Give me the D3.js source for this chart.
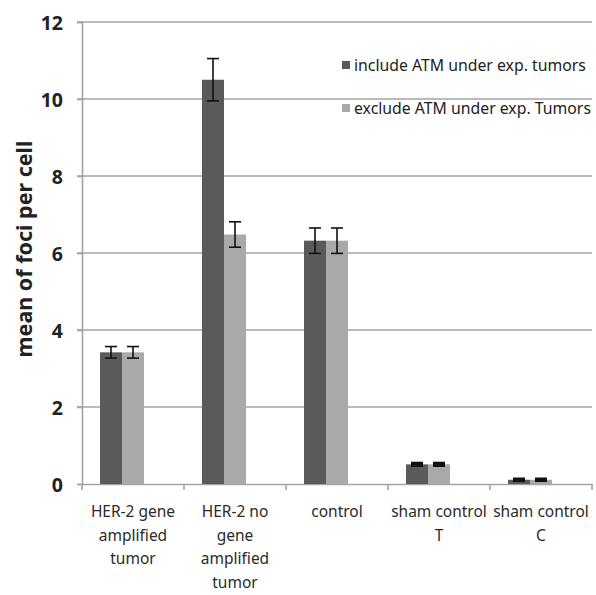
<!DOCTYPE html>
<html><head><meta charset="utf-8">
<script src="https://cdn.jsdelivr.net/npm/d3@7"></script>
<style>body{margin:0;background:#fff}</style>
</head><body>
<svg id="c" width="596" height="595"></svg>
<script>
const categories = ["HER-2 gene amplified tumor","HER-2 no gene amplified tumor","control","sham control T","sham control C"];
const categoryLines = [["HER-2 gene","amplified","tumor"],["HER-2 no","gene","amplified","tumor"],["control"],["sham control","T"],["sham control","C"]];
const seriesNames = ["include ATM under exp. tumors","exclude ATM under exp. Tumors"];
const includeValues = [3.42, 10.5, 6.32, 0.51, 0.11];
const includeErrors = [0.15, 0.55, 0.33, 0.03, 0.02];
const excludeValues = [3.42, 6.48, 6.32, 0.51, 0.11];
const excludeErrors = [0.15, 0.33, 0.33, 0.03, 0.02];
const yTicks = [0,2,4,6,8,10,12];
const colors = ["#5a5a5a","#a9a9a9"];

const svg = d3.select("#c");
const L=82, R=592, T=22, B=484;
const x = d3.scaleBand().domain(categories).range([L,R]).padding(0);
const xs = d3.scaleBand().domain([0,1]).range([0,44]).padding(0);
const y = d3.scaleLinear().domain([0,12]).range([B,T]);
const barOffset = 18;

// gridlines
svg.append("g").selectAll("line").data(yTicks.filter(d=>d>0)).join("line")
  .attr("x1",L-5).attr("x2",R).attr("y1",d=>y(d)).attr("y2",d=>y(d))
  .attr("stroke","#a3a3a3").attr("stroke-width",1.6);

// y axis
const ya = svg.append("g").attr("transform",`translate(${L},0)`)
  .call(d3.axisLeft(y).tickValues(yTicks).tickSize(5).tickPadding(14));
ya.select(".domain").attr("stroke","#a3a3a3").attr("stroke-width",1.6);
ya.selectAll(".tick line").attr("stroke","#a3a3a3").attr("stroke-width",1.6);
ya.selectAll(".tick text").attr("font-family","Noto Sans").attr("font-weight","bold")
  .attr("font-size",19.5).attr("fill","#222").attr("dy","0.36em");

// x axis
const xa = svg.append("g").attr("transform",`translate(0,${B})`)
  .call(d3.axisBottom(x).tickSize(0).tickFormat(""));
xa.select(".domain").attr("stroke","#a3a3a3").attr("stroke-width",1.6);
svg.append("g").selectAll("line").data(categories.concat(["_end"])).join("line")
  .attr("x1",(d,i)=> i<categories.length ? x(d) : R)
  .attr("x2",(d,i)=> i<categories.length ? x(d) : R)
  .attr("y1",B).attr("y2",B+6).attr("stroke","#a3a3a3").attr("stroke-width",1.6);

// bars
const data = categories.map((c,i)=>({c, vals:[includeValues[i],excludeValues[i]], errs:[includeErrors[i],excludeErrors[i]]}));
const grp = svg.append("g").selectAll("g").data(data).join("g")
  .attr("transform",d=>`translate(${x(d.c)+barOffset},0)`);
grp.selectAll("rect").data(d=>d.vals.map((v,k)=>({v,k}))).join("rect")
  .attr("x",d=>xs(d.k)).attr("width",xs.bandwidth())
  .attr("y",d=>y(d.v)).attr("height",d=>B-y(d.v)).attr("fill",d=>colors[d.k]);
// error bars
const eb = grp.selectAll("g.eb").data(d=>d.vals.map((v,k)=>({v,k,e:d.errs[k]}))).join("g").attr("class","eb");
const sw = d => d.e < 0.1 ? 3 : 1.6;
eb.append("line").attr("x1",d=>xs(d.k)+xs.bandwidth()/2).attr("x2",d=>xs(d.k)+xs.bandwidth()/2)
  .attr("y1",d=>y(d.v+d.e)).attr("y2",d=>y(d.v-d.e)).attr("stroke","#111").attr("stroke-width",sw);
eb.append("line").attr("x1",d=>xs(d.k)+xs.bandwidth()/2-6).attr("x2",d=>xs(d.k)+xs.bandwidth()/2+6)
  .attr("y1",d=>y(d.v+d.e)).attr("y2",d=>y(d.v+d.e)).attr("stroke","#111").attr("stroke-width",sw);
eb.append("line").attr("x1",d=>xs(d.k)+xs.bandwidth()/2-6).attr("x2",d=>xs(d.k)+xs.bandwidth()/2+6)
  .attr("y1",d=>y(d.v-d.e)).attr("y2",d=>y(d.v-d.e)).attr("stroke","#111").attr("stroke-width",sw);

// x labels
categoryLines.forEach((lines,i)=>{
  const t = svg.append("text").attr("x",x(categories[i])+x.bandwidth()/2).attr("y",517)
    .attr("text-anchor","middle").attr("font-family","Noto Sans").attr("font-size",15.5).attr("fill","#2a2a2a");
  lines.forEach((ln,j)=>t.append("tspan").attr("x",x(categories[i])+x.bandwidth()/2).attr("dy",j===0?0:23.5).text(ln));
});

// y title
svg.append("text").attr("transform","translate(32,249) rotate(-90)").attr("text-anchor","middle")
  .attr("font-family","Noto Sans").attr("font-weight","bold").attr("font-size",21.5).attr("fill","#222")
  .text("mean of foci per cell");

// legend
const lg = svg.append("g").selectAll("g").data(seriesNames).join("g")
  .attr("transform",(d,i)=>`translate(342,${65+i*43})`);
lg.append("rect").attr("x",0).attr("y",-4).attr("width",8).attr("height",8).attr("fill",(d,i)=>colors[i]);
lg.append("text").attr("x",12).attr("y",0).attr("dy","0.35em").attr("font-family","Noto Sans")
  .attr("font-size",15.8).attr("fill","#222").text(d=>d);
</script>
</body></html>
